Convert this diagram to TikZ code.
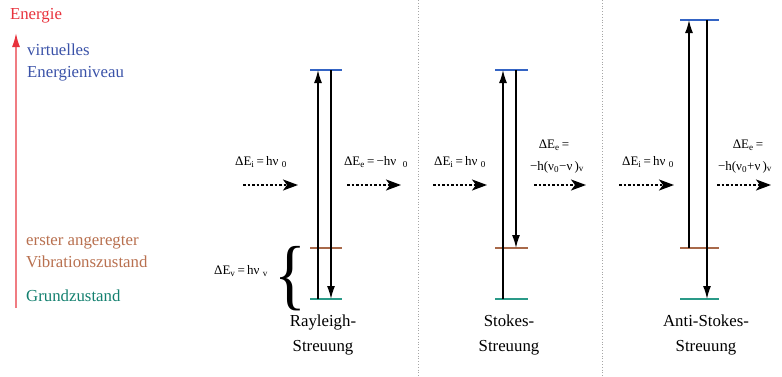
\documentclass[tikz,border=0pt]{standalone}
\usepackage{fontspec}
\setmainfont{Liberation Serif}
\usetikzlibrary{arrows.meta}
\definecolor{cred}{HTML}{E8323C}
\definecolor{cpink}{HTML}{F07C82}
\definecolor{cbluet}{HTML}{3A52A8}
\definecolor{cbrownt}{HTML}{B8704F}
\definecolor{ctealt}{HTML}{13806F}
\definecolor{cbluel}{HTML}{3464C4}
\definecolor{cbrownl}{HTML}{A8694A}
\definecolor{ctealL}{HTML}{2A9A88}
\newcommand{\sbx}[1]{\textsubscript{#1}}
\tikzset{
  big/.style={font=\fontsize{16.8}{22}\selectfont, inner sep=0pt},
  small/.style={font=\fontsize{13}{21}\selectfont, inner sep=0pt},
  lvtop/.style={cbluel, line width=1.6pt},
  lvmid/.style={cbrownl, line width=1.6pt},
  lvbot/.style={ctealL, line width=1.6pt},
  trans/.style={line width=1.5pt, -{Latex[length=13pt,width=8pt]}},
  photon/.style={line width=2pt, dash pattern=on 2.5pt off 2pt, -{Stealth[length=15pt,width=11pt,inset=4pt]}},
  sep/.style={gray!70, line width=0.8pt, dotted},
}
\begin{document}
\begin{tikzpicture}[x=1pt,y=-1pt]
\useasboundingbox (0,0) rectangle (782,376);
% energy axis
\coordinate (eA) at (16,308);
\coordinate (eB) at (16,33);
\draw[cpink, line width=1.6pt, -{Latex[length=14pt,width=8pt,fill=cred,color=cred]}] (eA) -- (eB);
\node[big, text=cred] (energie) at (36,16) {Energie};
\node[big, text=cbluet, anchor=west, align=left] (virt) at (27,62) {virtuelles\\Energieniveau};
\node[big, text=cbrownt, anchor=west, align=left] (erst) at (26,252) {erster angeregter\\Vibrationszustand};
\node[big, text=ctealt, anchor=west] (grund) at (26,296) {Grundzustand};
% separators
\coordinate (s1a) at (418,0); \coordinate (s1b) at (418,376);
\coordinate (s2a) at (602,0); \coordinate (s2b) at (602,376);
\draw[sep] (s1a) -- (s1b);
\draw[sep] (s2a) -- (s2b);
% brace
\node[inner sep=0pt, xscale=0.85, font=\fontsize{78}{78}\selectfont] (brace) at (290,279) {\{};
\node[small] (dEv) at (241,271) {ΔE\sbx{v}\,=\,hν\ \sbx{v}};
% ---------- Rayleigh ----------
\coordinate (rT1) at (310,70); \coordinate (rT2) at (342,70);
\coordinate (rM1) at (310,248); \coordinate (rM2) at (342,248);
\coordinate (rB1) at (310,299); \coordinate (rB2) at (342,299);
\draw[lvtop] (rT1) -- (rT2);
\draw[lvmid] (rM1) -- (rM2);
\draw[lvbot] (rB1) -- (rB2);
\coordinate (rU1) at (318,299); \coordinate (rU2) at (318,70);
\coordinate (rD1) at (331,70); \coordinate (rD2) at (331,299);
\draw[trans] (rU1) -- (rU2);
\draw[trans] (rD1) -- (rD2);
\coordinate (rp1) at (243,185); \coordinate (rp2) at (298,185);
\coordinate (rp3) at (347,185); \coordinate (rp4) at (401,185);
\draw[photon] (rp1) -- (rp2);
\draw[photon] (rp3) -- (rp4);
\node[small] (rin) at (261,162) {ΔE\sbx{i}\,=\,hν\ \sbx{0}};
\node[small] (rout) at (376,162) {ΔE\sbx{e}\,=\,−hν\ \ \sbx{0}};
\node[big, align=center] (rlab) at (323,335) {Rayleigh-\\[3pt]Streuung};
% ---------- Stokes ----------
\coordinate (sT1) at (495,70); \coordinate (sT2) at (528,70);
\coordinate (sM1) at (495,248); \coordinate (sM2) at (528,248);
\coordinate (sB1) at (495,299); \coordinate (sB2) at (528,299);
\draw[lvtop] (sT1) -- (sT2);
\draw[lvmid] (sM1) -- (sM2);
\draw[lvbot] (sB1) -- (sB2);
\coordinate (sU1) at (503,299); \coordinate (sU2) at (503,70);
\coordinate (sD1) at (516,70); \coordinate (sD2) at (516,248);
\draw[trans] (sU1) -- (sU2);
\draw[trans] (sD1) -- (sD2);
\coordinate (sp1) at (433,185); \coordinate (sp2) at (487,185);
\coordinate (sp3) at (534,185); \coordinate (sp4) at (586,185);
\draw[photon] (sp1) -- (sp2);
\draw[photon] (sp3) -- (sp4);
\node[small] (sin) at (460,162) {ΔE\sbx{i}\,=\,hν\ \sbx{0}};
\node[small] (sout1) at (554,145) {ΔE\sbx{e}\,=};
\node[small] (sout2) at (557,167) {−h(ν\sbx{0}−ν\,)\sbx{v}};
\node[big, align=center] (slab) at (509,335) {Stokes-\\[3pt]Streuung};
% ---------- Anti-Stokes ----------
\coordinate (aT1) at (680,20); \coordinate (aT2) at (719,20);
\coordinate (aM1) at (680,248); \coordinate (aM2) at (719,248);
\coordinate (aB1) at (680,299); \coordinate (aB2) at (719,299);
\draw[lvtop] (aT1) -- (aT2);
\draw[lvmid] (aM1) -- (aM2);
\draw[lvbot] (aB1) -- (aB2);
\coordinate (aU1) at (689,248); \coordinate (aU2) at (689,20);
\coordinate (aD1) at (707,20); \coordinate (aD2) at (707,299);
\draw[trans] (aU1) -- (aU2);
\draw[trans] (aD1) -- (aD2);
\coordinate (ap1) at (619,185); \coordinate (ap2) at (674,185);
\coordinate (ap3) at (717,185); \coordinate (ap4) at (771,185);
\draw[photon] (ap1) -- (ap2);
\draw[photon] (ap3) -- (ap4);
\node[small] (ain) at (648,162) {ΔE\sbx{i}\,=\,hν\ \sbx{0}};
\node[small] (aout1) at (748,145) {ΔE\sbx{e}\,=};
\node[small] (aout2) at (745,167) {−h(ν\sbx{0}+ν\,)\sbx{v}};
\node[big, align=center] (alab) at (706,335) {Anti-Stokes-\\[3pt]Streuung};
\end{tikzpicture}
\end{document}
